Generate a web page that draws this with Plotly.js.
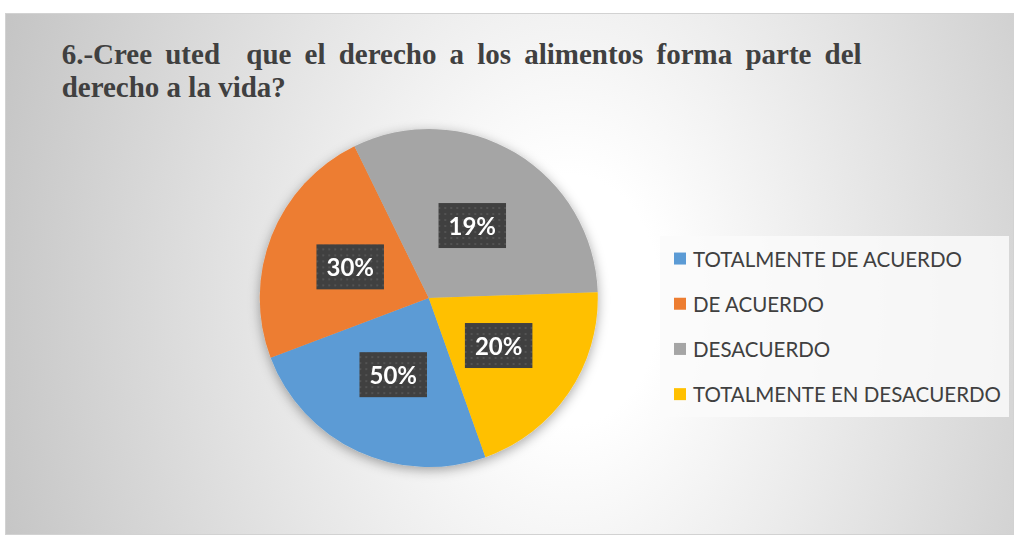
<!DOCTYPE html>
<html>
<head>
<meta charset="utf-8">
<script src="https://cdn.plot.ly/plotly-3.0.1.min.js"></script>
<style>
    html, body { margin: 0; padding: 0; background: #ffffff; }
    #frame {
        position: absolute; left: 5px; top: 13px;
        width: 1009px; height: 522px; box-sizing: border-box;
        border: 1px solid #d2d2d2;
        background: radial-gradient(ellipse 60% 160% at 56% 55%, #ffffff 15%, #c4c4c4 100%);
    }
    #pie { width: 1007px; height: 520px; }
</style>
</head>
<body>
<div id="frame"><div id="pie"></div></div>
<script>
const categories = ["TOTALMENTE DE ACUERDO", "DE ACUERDO", "DESACUERDO", "TOTALMENTE EN DESACUERDO"];
// slice sizes as drawn (the printed labels do not match them)
const sliceShares = [24.7, 23.5, 31.7, 20.1];
const printedLabels = ["50%", "30%", "19%", "20%"];
const sliceColors = ["#5B9BD5", "#ED7D31", "#A5A5A5", "#FFC000"];
const chartTitle = "6.-Cree uted  que el derecho a los alimentos forma parte del<br>derecho a la vida?";

const plot = document.querySelector("#pie");
const SVGNS = "http://www.w3.org/2000/svg";

const data = [
    {
        type: "pie",
        labels: categories,
        values: sliceShares,
        text: printedLabels,
        textinfo: "text",
        textposition: "inside",
        insidetextorientation: "horizontal",
        insidetextfont: { family: "Lato, sans-serif", size: 24, color: "#ffffff", weight: 700 },
        marker: { colors: sliceColors, line: { width: 0 } },
        sort: false,
        direction: "clockwise",
        rotation: 160.4,
        domain: { x: [0.2535, 0.5912], y: [0.1269, 0.7808] },
        hoverinfo: "skip",
    },
];

const layout = {
    width: 1007,
    height: 520,
    margin: { t: 0, r: 0, b: 0, l: 0 },
    paper_bgcolor: "rgba(0,0,0,0)",
    plot_bgcolor: "rgba(0,0,0,0)",
    hovermode: false,
    title: {
        text: chartTitle,
        font: { family: "Liberation Serif, Times New Roman, serif", size: 29, color: "#404040", weight: 700 },
        xref: "paper", x: 0.0556, xanchor: "left",
        yref: "container", y: 0.904, yanchor: "top",
    },
    showlegend: true,
    legend: {
        x: 0.6534, xanchor: "left",
        y: 0.573, yanchor: "top",
        bgcolor: "rgba(250,250,250,0.85)",
        font: { family: "Lato, sans-serif", size: 20.5, color: "#404040" },
        traceorder: "normal",
    },
};

function makeDefs(svg) {
    if (plot.querySelector("#pieShadow")) return;
    const defs = svg.querySelector("defs") || svg.insertBefore(document.createElementNS(SVGNS, "defs"), svg.firstChild);
    defs.insertAdjacentHTML("beforeend",
        '<filter id="pieShadow" x="-20%" y="-20%" width="140%" height="140%">' +
        '<feDropShadow dx="0" dy="3" stdDeviation="6" flood-color="#000" flood-opacity="0.35"/></filter>' +
        '<pattern id="dots" width="6" height="6" patternUnits="userSpaceOnUse">' +
        '<rect width="6" height="6" fill="#404040"/><circle cx="3" cy="3" r="0.9" fill="#5a5a5a"/></pattern>');
}

function dressTitle() {
    const lines = plot.querySelectorAll(".gtitle tspan.line");
    if (lines.length < 2) return;
    const first = lines[0];
    // justify the first line to the width it has in the original
    const wanted = 800;
    const spaces = (first.textContent.match(/ /g) || []).length;
    first.style.wordSpacing = "0px";
    const natural = first.getComputedTextLength();
    if (spaces) first.style.wordSpacing = ((wanted - natural) / spaces).toFixed(2) + "px";
    lines[1].setAttribute("dy", "1.14em");
}

function dressLabels(svg) {
    const svgBox = svg.getBoundingClientRect();
    const cd0 = plot.calcdata[0][0];
    plot.querySelectorAll(".pielayer g.slice").forEach((slice) => {
        const t = slice.querySelector("text");
        const pt = slice.__data__;
        if (!t || !pt || slice.querySelector(".labelwrap")) return;
        const b = t.getBBox();
        const box = document.createElementNS(SVGNS, "rect");
        box.setAttribute("class", "labelbox");
        box.setAttribute("x", b.x - 10);
        box.setAttribute("y", b.y - 8);
        box.setAttribute("width", b.width + 20);
        box.setAttribute("height", b.height + 16);
        box.setAttribute("fill", "url(#dots)");
        const tr = t.getAttribute("transform");
        if (tr) box.setAttribute("transform", tr);
        const wrap = document.createElementNS(SVGNS, "g");
        wrap.setAttribute("class", "labelwrap");
        t.parentNode.insertBefore(wrap, t);
        wrap.appendChild(box);
        wrap.appendChild(t);
        // labels sit halfway out along the middle of each slice
        const r = t.getBoundingClientRect();
        const nowX = r.left + r.width / 2 - svgBox.left;
        const nowY = r.top + r.height / 2 - svgBox.top;
        const goX = cd0.cx + 0.5 * pt.pxmid[0];
        const goY = cd0.cy + 0.5 * pt.pxmid[1];
        wrap.setAttribute("transform", `translate(${goX - nowX},${goY - nowY})`);
    });
}

function dressLegend() {
    const legend = plot.querySelector(".legend");
    if (!legend) return;
    const rowTop = 22.5;
    const rowGap = 45.2;
    const boxW = 349;
    const boxH = 181;
    legend.querySelectorAll(".traces").forEach((g, i) => {
        g.setAttribute("transform", `translate(0,${rowTop + rowGap * i})`);
        const txt = g.querySelector("text.legendtext");
        if (txt) txt.setAttribute("x", 33);
    });
    const bg = legend.querySelector("rect.bg");
    if (bg) { bg.setAttribute("width", boxW); bg.setAttribute("height", boxH); }
    const scroll = legend.querySelector(".scrollbox");
    const clip = scroll && scroll.getAttribute("clip-path");
    const m = clip && clip.match(/#([^)'"]+)/);
    const clipEl = m && document.getElementById(m[1]);
    const clipRect = clipEl && clipEl.querySelector("rect");
    if (clipRect) { clipRect.setAttribute("width", boxW); clipRect.setAttribute("height", boxH); }
}

function dressUp() {
    const svg = plot.querySelector("svg.main-svg");
    if (!svg) return;
    makeDefs(svg);
    plot.querySelectorAll(".pielayer .trace").forEach((g) => g.setAttribute("filter", "url(#pieShadow)"));
    dressTitle();
    dressLabels(svg);
    dressLegend();
}

Plotly.newPlot(plot, data, layout, { displayModeBar: false, staticPlot: true }).then(() => {
    dressUp();
    plot.on("plotly_afterplot", dressUp);
});
</script>
</body>
</html>
